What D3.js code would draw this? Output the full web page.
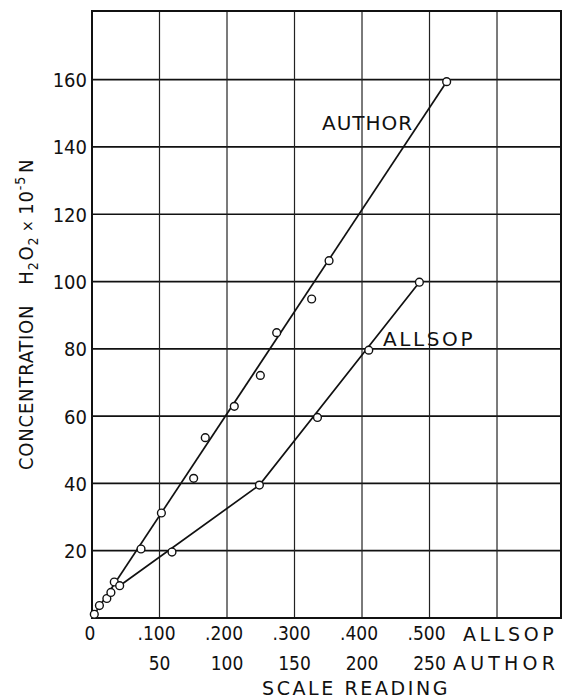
<!DOCTYPE html>
<html>
<head>
  <meta charset="utf-8">
  <script src="https://d3js.org/d3.v7.min.js"></script>
  <style>
    body { margin: 0; background: #fff; }
    text { fill: #111; }
    .num { font-family: "DejaVu Sans Condensed", sans-serif; font-size: 20px; }
    .word { font-family: "DejaVu Sans", sans-serif; }
  </style>
</head>
<body>
<script>
// concentration ticks (H2O2 x 10^-5 N)
var yTicks = [20, 40, 60, 80, 100, 120, 140, 160];
// scale reading ticks, Allsop scale and Author scale
var allsopTicks = [0, 0.1, 0.2, 0.3, 0.4, 0.5];
var allsopLabels = ["0", ".100", ".200", ".300", ".400", ".500"];
var authorTicks = [50, 100, 150, 200, 250];
var gridX = [0.1, 0.2, 0.3, 0.4, 0.5, 0.6];

// author readings: [scale reading (author units), concentration]
var authorPts = [
  [1.7, 1.1], [5.5, 3.7], [11, 5.8], [14, 7.6], [16.5, 10.7],
  [36.3, 20.5], [51.4, 31.2], [75.3, 41.5], [83.9, 53.6], [105.4, 62.9],
  [124.7, 72.1], [136.8, 84.8], [162.7, 94.8], [175.6, 106.2], [262.7, 159.4]
];
// allsop readings: [scale reading (allsop units), concentration]
var allsopPts = [
  [0.041, 9.6], [0.1185, 19.6], [0.248, 39.5], [0.334, 59.6], [0.410, 79.6], [0.485, 99.8]
];
// drawn curves
var authorFit = [[1.7, 1.1], [262.7, 159.4]];
var allsopFit = [[0.041, 9.6], [0.248, 39.5], [0.485, 99.8]];

var W = 564, H = 698;
var pL = 92, pR = 561, pT = 11, pB = 618;

var svg = d3.select("body").append("svg")
    .attr("width", W).attr("height", H);

var x = d3.scaleLinear().domain([0, 0.6948]).range([pL, pR]);
var xa = d3.scaleLinear().domain([0, 347.4]).range([pL, pR]);
var y = d3.scaleLinear().domain([0, 180.4]).range([pB, pT]);

// grid
svg.selectAll("line.hgrid").data(yTicks).enter().append("line")
    .attr("x1", pL).attr("x2", pR)
    .attr("y1", d => y(d)).attr("y2", d => y(d))
    .style("stroke", "#111").style("stroke-width", 1.7);

svg.selectAll("line.vgrid").data(gridX).enter().append("line")
    .attr("x1", d => x(d)).attr("x2", d => x(d))
    .attr("y1", pT).attr("y2", pB)
    .style("stroke", "#222").style("stroke-width", 1.2);

// frame
svg.append("rect")
    .attr("x", pL).attr("y", pT)
    .attr("width", pR - pL).attr("height", pB - pT)
    .style("fill", "none").style("stroke", "#111").style("stroke-width", 2);

// y tick labels
svg.selectAll("text.ylab").data(yTicks).enter().append("text")
    .attr("class", "num")
    .attr("x", pL - 5).attr("y", d => y(d) + 7.5)
    .attr("text-anchor", "end")
    .text(d => d);

// x tick labels, two rows
svg.selectAll("text.xa").data(allsopTicks).enter().append("text")
    .attr("class", "num")
    .style("font-size", "19px")
    .attr("x", (d, i) => x(d) + (i === 0 ? -2 : -3)).attr("y", 640)
    .attr("text-anchor", "middle")
    .text((d, i) => allsopLabels[i]);

svg.selectAll("text.xb").data(authorTicks).enter().append("text")
    .attr("class", "num")
    .style("font-size", "19px")
    .attr("x", d => xa(d)).attr("y", 670)
    .attr("text-anchor", "middle")
    .text(d => d);

svg.append("text").attr("class", "word")
    .style("font-size", "19px").style("letter-spacing", "3.6px")
    .attr("x", 463).attr("y", 641).text("ALLSOP");
svg.append("text").attr("class", "word")
    .style("font-size", "19px").style("letter-spacing", "4.2px")
    .attr("x", 453).attr("y", 670).text("AUTHOR");
svg.append("text").attr("class", "word")
    .style("font-size", "19px").style("letter-spacing", "2.6px")
    .attr("x", 262).attr("y", 695).text("SCALE  READING");

// y axis title
var yt = svg.append("text").attr("class", "word")
    .attr("transform", "translate(33,470) rotate(-90)")
    .style("font-family", "DejaVu Sans Condensed, sans-serif")
    .style("font-size", "20px")
    .style("letter-spacing", "0.8px");
yt.append("tspan").text("CONCENTRATION");
yt.append("tspan").attr("dx", 20).text("H");
yt.append("tspan").attr("dy", 5).style("font-size", "14px").text("2");
yt.append("tspan").attr("dy", -5).attr("dx", 1).text("O");
yt.append("tspan").attr("dy", 5).style("font-size", "14px").text("2");
yt.append("tspan").attr("dy", -5).attr("dx", 5).style("font-size", "15px").text("×");
yt.append("tspan").attr("dx", 5).text("10");
yt.append("tspan").attr("dy", -8).style("font-size", "14px").text("-5");
yt.append("tspan").attr("dy", 8).attr("dx", 3).text("N");

// curves
var lineA = d3.line().x(d => xa(d[0])).y(d => y(d[1]));
var lineS = d3.line().x(d => x(d[0])).y(d => y(d[1]));

svg.append("path").attr("d", lineA(authorFit))
    .style("fill", "none").style("stroke", "#111").style("stroke-width", 1.7);
svg.append("path").attr("d", lineS(allsopFit))
    .style("fill", "none").style("stroke", "#111").style("stroke-width", 1.7);

// points
svg.selectAll("circle.au").data(authorPts).enter().append("circle")
    .attr("cx", d => xa(d[0])).attr("cy", d => y(d[1])).attr("r", 3.9)
    .style("fill", "#fff").style("stroke", "#111").style("stroke-width", 1.4);
svg.selectAll("circle.al").data(allsopPts).enter().append("circle")
    .attr("cx", d => x(d[0])).attr("cy", d => y(d[1])).attr("r", 3.9)
    .style("fill", "#fff").style("stroke", "#111").style("stroke-width", 1.4);

// curve labels
svg.append("text").attr("class", "word")
    .style("font-size", "20px").style("letter-spacing", "1px")
    .attr("x", 322).attr("y", 130).text("AUTHOR");
svg.append("text").attr("class", "word")
    .style("font-size", "20px").style("letter-spacing", "2.6px")
    .attr("x", 383).attr("y", 346).text("ALLSOP");
</script>
</body>
</html>
